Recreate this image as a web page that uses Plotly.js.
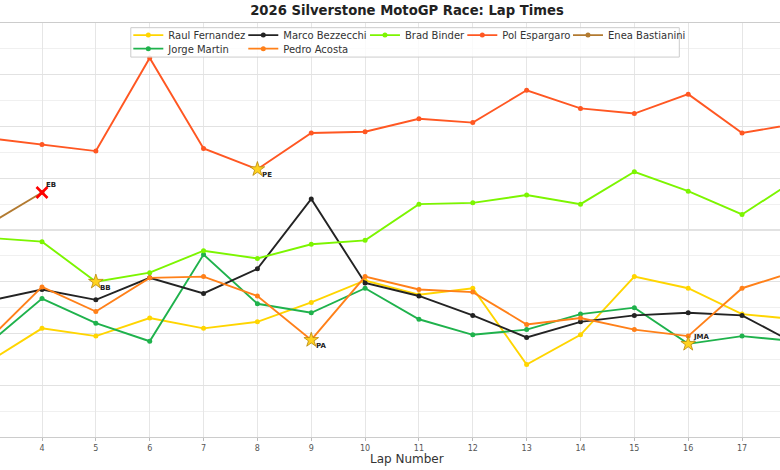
<!DOCTYPE html>
<html>
<head>
<meta charset="utf-8">
<script src="https://cdn.plot.ly/plotly-3.0.1.min.js"></script>
<style>html,body{margin:0;padding:0;background:#fff;}#chart{width:780px;height:470px;}</style>
</head>
<body>
<div id="chart"></div>
<script>
// Lap numbers (visible window spans roughly laps 3 to 18)
var laps = [3, 4, 5, 6, 7, 8, 9, 10, 11, 12, 13, 14, 15, 16, 17, 18];

// Lap times (seconds)
var raulFernandez  = [119.58, 119.84, 119.78, 119.92, 119.84, 119.89, 120.04, 120.21, 120.10, 120.15, 119.56, 119.79, 120.24, 120.15, 119.95, 119.91];
var jorgeMartin    = [119.72, 120.07, 119.88, 119.74, 120.41, 120.03, 119.96, 120.15, 119.91, 119.79, 119.83, 119.95, 120.00, 119.72, 119.78, 119.74];
var marcoBezzecchi = [120.05, 120.14, 120.06, 120.23, 120.11, 120.30, 120.84, 120.19, 120.09, 119.94, 119.77, 119.89, 119.94, 119.96, 119.94, 119.72];
var pedroAcosta    = [119.75, 120.16, 119.97, 120.23, 120.24, 120.09, 119.75, 120.24, 120.14, 120.12, 119.87, 119.92, 119.83, 119.78, 120.15, 120.28];
var bradBinder     = [120.54, 120.51, 120.20, 120.27, 120.44, 120.38, 120.49, 120.52, 120.80, 120.81, 120.87, 120.80, 121.05, 120.90, 120.72, 120.99];
var polEspargaro   = [121.31, 121.26, 121.21, 121.93, 121.23, 121.07, 121.35, 121.36, 121.46, 121.43, 121.68, 121.54, 121.50, 121.65, 121.35, 121.42];
var eneaBastianini = [120.64, 120.89, null, null, null, null, null, null, null, null, null, null, null, null, null, null];

var riderNames = ["Raul Fernandez", "Jorge Martin", "Marco Bezzecchi", "Pedro Acosta", "Brad Binder", "Pol Espargaro", "Enea Bastianini"];

// Highlighted laps (stars) and crash (x)
var starRiders = ["Brad Binder", "Pol Espargaro", "Pedro Acosta", "Jorge Martin"];
var starLaps   = [5, 8, 9, 16];
var starLabels = ["BB", "PE", "PA", "JMA"];
var crashRiders = ["Enea Bastianini"];
var crashLaps   = [4];
var crashLabels = ["EB"];

var seriesByName = {
  "Raul Fernandez": raulFernandez,
  "Jorge Martin": jorgeMartin,
  "Marco Bezzecchi": marcoBezzecchi,
  "Pedro Acosta": pedroAcosta,
  "Brad Binder": bradBinder,
  "Pol Espargaro": polEspargaro,
  "Enea Bastianini": eneaBastianini
};

var colors = {
  "Raul Fernandez": "#FFD500",
  "Jorge Martin": "#1FB24C",
  "Marco Bezzecchi": "#232323",
  "Pedro Acosta": "#FF8019",
  "Brad Binder": "#7CF500",
  "Pol Espargaro": "#FF5722",
  "Enea Bastianini": "#B27A30"
};
var legendIds = {
  "Raul Fernandez": "legend",
  "Marco Bezzecchi": "legend2",
  "Brad Binder": "legend3",
  "Pol Espargaro": "legend4",
  "Enea Bastianini": "legend5",
  "Jorge Martin": "legend6",
  "Pedro Acosta": "legend7"
};

function valueAt(name, lap) {
  return seriesByName[name][laps.indexOf(lap)];
}

var traces = riderNames.map(function (n) {
  return {
    type: "scatter", mode: "lines+markers", name: n,
    x: laps, y: seriesByName[n],
    line: {color: colors[n], width: 1.9},
    marker: {color: colors[n], size: 5},
    legend: legendIds[n], connectgaps: false,
    hoverinfo: "x+y+name"
  };
});

traces.push({
  type: "scatter", mode: "markers", showlegend: false,
  x: starLaps, y: starLaps.map(function (l, i) { return valueAt(starRiders[i], l); }),
  marker: {symbol: "star", size: 11, color: "#FFD21F", line: {color: "#B8860B", width: 0.8}},
  hoverinfo: "skip"
});
traces.push({
  type: "scatter", mode: "markers", showlegend: false,
  x: crashLaps, y: crashLaps.map(function (l, i) { return valueAt(crashRiders[i], l); }),
  marker: {symbol: "x-thin", size: 11, color: "#FF0000", line: {color: "#FF0000", width: 2.6}},
  hoverinfo: "skip"
});

var annotations = [];
starLaps.forEach(function (l, i) {
  annotations.push({
    x: l, y: valueAt(starRiders[i], l), xref: "x", yref: "y",
    text: "<b>" + starLabels[i] + "</b>", showarrow: false,
    xanchor: "left", yanchor: "middle", xshift: 2.5,
    yshift: starLabels[i] === "JMA" ? 6.5 : -6,
    font: {family: "DejaVu Sans", size: 7, color: "#222"}
  });
});
crashLaps.forEach(function (l, i) {
  annotations.push({
    x: l, y: valueAt(crashRiders[i], l), xref: "x", yref: "y",
    text: "<b>" + crashLabels[i] + "</b>", showarrow: false,
    xanchor: "left", yanchor: "middle", xshift: 2, yshift: 7.7,
    font: {family: "DejaVu Sans", size: 7, color: "#222"}
  });
});
annotations.push({
  x: 0.5218, y: -0.0535, xref: "paper", yref: "paper",
  text: "Lap Number", showarrow: false, xanchor: "center", yanchor: "middle",
  font: {family: "DejaVu Sans", size: 12, color: "#333"}
});

function leg(x, y) {
  return {
    x: x, y: y, xanchor: "left", yanchor: "middle", orientation: "v",
    bgcolor: "rgba(0,0,0,0)", borderwidth: 0,
    font: {family: "DejaVu Sans", size: 10, color: "#333"}
  };
}

var layout = {
  width: 780, height: 470,
  margin: {l: 0, r: 0, t: 22.6, b: 33, pad: 0},
  paper_bgcolor: "#ffffff", plot_bgcolor: "#ffffff",
  title: {
    text: "<b>2026 Silverstone MotoGP Race: Lap Times</b>",
    x: 0.5218, xref: "paper", xanchor: "center",
    y: 0.9777, yref: "container", yanchor: "middle",
    font: {family: "DejaVu Sans", size: 13.2, color: "#222"}
  },
  xaxis: {
    range: [3.22, 17.705], dtick: 1, tick0: 0,
    showgrid: true, gridcolor: "#e6e6e6", gridwidth: 1,
    showline: true, mirror: true, linecolor: "#cccccc", linewidth: 1.4,
    ticks: "outside", ticklen: 3, tickcolor: "#bbbbbb", tickwidth: 1,
    ticklabelstandoff: 0,
    tickfont: {family: "DejaVu Sans", size: 8, color: "#555"},
    zeroline: false, fixedrange: true
  },
  yaxis: {
    range: [119.0, 122.2], dtick: 0.4, tick0: 119.0,
    showticklabels: false, ticks: "",
    showgrid: true, gridcolor: "#e2e2e2", gridwidth: 1.3,
    minor: {dtick: 0.2, tick0: 119.0, showgrid: true, gridcolor: "#eeeeee", gridwidth: 0.9},
    showline: false, zeroline: false, fixedrange: true
  },
  shapes: [{
    type: "rect", xref: "paper", yref: "paper", layer: "above",
    x0: 0.1677, x1: 0.8709, y0: 0.9177, y1: 0.9887,
    fillcolor: "rgba(255,255,255,0.8)", line: {color: "#cccccc", width: 1}
  }],
  legend:  leg(0.1645, 0.9708),
  legend2: leg(0.3119, 0.9708),
  legend3: leg(0.4679, 0.9708),
  legend4: leg(0.5927, 0.9708),
  legend5: leg(0.7282, 0.9708),
  legend6: leg(0.1645, 0.9380),
  legend7: leg(0.3119, 0.9380),
  annotations: annotations,
  showlegend: true
};

Plotly.newPlot("chart", traces, layout, {displayModeBar: false, staticPlot: true});
</script>
</body>
</html>
